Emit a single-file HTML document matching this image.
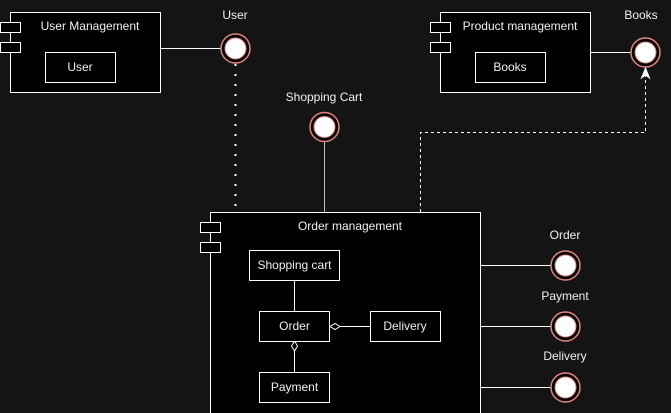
<!DOCTYPE html>
<html><head><meta charset="utf-8"><style>
html,body{margin:0;padding:0;background:#141414;}
svg{display:block;}
text{font-family:"Liberation Sans",sans-serif;font-size:12px;fill:#f0f0f0;text-anchor:middle;}
</style></head><body>
<svg width="671" height="413" viewBox="0 0 671 413">
<defs>
<g id="iface">
<circle r="14.5" fill="#000" stroke="#e8837f" stroke-width="1.5"/>
<circle r="10.5" fill="#fff" stroke="#e8837f" stroke-width="1"/>
</g>
</defs>
<!-- connectors -->
<line x1="160" y1="48.5" x2="221" y2="48.5" stroke="#fff" stroke-width="1"/>
<line x1="235.5" y1="64" x2="235.5" y2="212" stroke="#fff" stroke-width="2" stroke-dasharray="2 8"/>
<line x1="324.5" y1="141" x2="324.5" y2="212" stroke="#bbb" stroke-width="1"/>
<line x1="590" y1="52.5" x2="631" y2="52.5" stroke="#fff" stroke-width="1"/>
<polyline points="420.5,212 420.5,132.5 645.5,132.5 645.5,74" fill="none" stroke="#fff" stroke-width="1" stroke-dasharray="3 3"/>
<path d="M645.5,68 L641.5,78 L645.5,75 L649.5,78 Z" fill="#fff" stroke="#fff"/>
<line x1="480" y1="265.5" x2="551" y2="265.5" stroke="#fff" stroke-width="1"/>
<line x1="480" y1="326.5" x2="551" y2="326.5" stroke="#fff" stroke-width="1"/>
<line x1="480" y1="387.5" x2="551" y2="387.5" stroke="#fff" stroke-width="1"/>

<!-- User Management -->
<rect x="10.5" y="12.5" width="150" height="80" fill="#000" stroke="#fff"/>
<rect x="0.5" y="22.5" width="20" height="10" fill="#000" stroke="#fff"/>
<rect x="0.5" y="42.5" width="20" height="10" fill="#000" stroke="#fff"/>
<text x="90" y="30">User Management</text>
<rect x="45.5" y="52.5" width="70" height="30" fill="#000" stroke="#fff"/>
<text x="80" y="71">User</text>

<!-- Product management -->
<rect x="440.5" y="12.5" width="150" height="80" fill="#000" stroke="#fff"/>
<rect x="430.5" y="22.5" width="20" height="10" fill="#000" stroke="#fff"/>
<rect x="430.5" y="42.5" width="20" height="10" fill="#000" stroke="#fff"/>
<text x="520" y="30">Product management</text>
<rect x="475.5" y="52.5" width="70" height="30" fill="#000" stroke="#fff"/>
<text x="510" y="71">Books</text>

<!-- Order management -->
<rect x="210.5" y="212.5" width="270" height="210" fill="#000" stroke="#fff"/>
<rect x="200.5" y="222.5" width="20" height="10" fill="#000" stroke="#fff"/>
<rect x="200.5" y="242.5" width="20" height="10" fill="#000" stroke="#fff"/>
<text x="350" y="230">Order management</text>
<line x1="294.5" y1="280" x2="294.5" y2="311" stroke="#fff"/>
<line x1="294.5" y1="351" x2="294.5" y2="372" stroke="#fff"/>
<path d="M294.5,341 L297.5,346 L294.5,351 L291.5,346 Z" fill="#000" stroke="#fff"/>
<line x1="340" y1="326.5" x2="370" y2="326.5" stroke="#fff"/>
<path d="M330,326.5 L335,323.5 L340,326.5 L335,329.5 Z" fill="#000" stroke="#fff"/>
<rect x="249.5" y="250.5" width="90" height="30" fill="#000" stroke="#fff"/>
<text x="294.5" y="269">Shopping cart</text>
<rect x="259.5" y="311.5" width="70" height="30" fill="#000" stroke="#fff"/>
<text x="294.5" y="330">Order</text>
<rect x="370.5" y="311.5" width="70" height="30" fill="#000" stroke="#fff"/>
<text x="405" y="330">Delivery</text>
<rect x="259.5" y="372.5" width="70" height="30" fill="#000" stroke="#fff"/>
<text x="294.5" y="391">Payment</text>

<!-- interfaces -->
<use href="#iface" x="235.5" y="48.5"/>
<text x="235" y="19">User</text>
<use href="#iface" x="324.5" y="127"/>
<text x="324" y="101">Shopping Cart</text>
<use href="#iface" x="645.5" y="52.5"/>
<text x="641" y="19">Books</text>
<use href="#iface" x="565.5" y="265.5"/>
<text x="565" y="239">Order</text>
<use href="#iface" x="565.5" y="326.5"/>
<text x="565" y="300">Payment</text>
<use href="#iface" x="565.5" y="387.5"/>
<text x="565" y="360">Delivery</text>
</svg>
</body></html>
